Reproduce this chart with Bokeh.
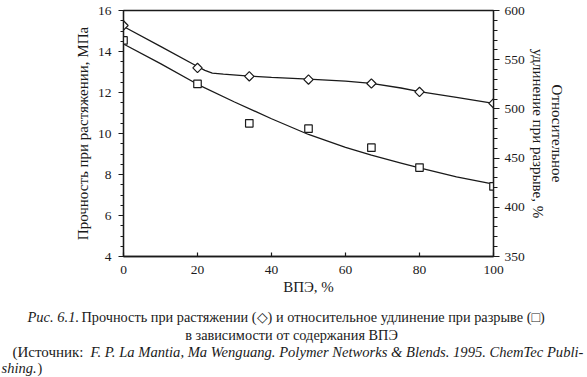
import math
from bokeh.plotting import figure
from bokeh.models import Range1d, LinearAxis, Label, FixedTicker
from bokeh.layouts import column
from bokeh.embed import file_html
from bokeh.resources import INLINE

# ---- data ----
vpe = [0, 20, 34, 50, 67, 80, 100]
strength = [15.27, 13.2, 12.79, 12.63, 12.44, 12.03, 11.47]          # МПа (left axis)
elongation = [569.6, 525.4, 485.3, 479.9, 460.6, 440.4, 421.2]       # % (right axis)

strength_fit_x = [0, 10, 20, 22, 24, 27, 34, 40, 50, 60, 67, 75, 80, 90, 100]
strength_fit_y = [15.22, 14.25, 13.27, 13.08, 12.95, 12.9, 12.8, 12.74, 12.65, 12.55, 12.45, 12.22, 12.04, 11.76, 11.47]

elong_fit_x = [0, 10, 20, 30, 40, 50, 60, 67, 75, 80, 90, 100]
elong_fit_y = [566, 546, 525, 507, 490, 474, 461, 453, 445, 440, 431, 423.5]

x_ticks = [0, 20, 40, 60, 80, 100]
left_ticks = [4, 6, 8, 10, 12, 14, 16]
right_ticks = [350, 400, 450, 500, 550, 600]

FONT = "Liberation Serif"
INK = "#1a1a1a"

W = 586
H1, H2 = 305, 71
FR_L, FR_R, FR_T, FR_B = 123, 493, 10, 256  # frame edges in canvas pixels

p = figure(width=W, height=H1, x_range=Range1d(0, 100), y_range=Range1d(4, 16),
           output_backend="svg", toolbar_location=None,
           min_border_left=FR_L, min_border_right=W - FR_R, min_border_top=FR_T,
           min_border_bottom=H1 - FR_B)
p.frame_align = False
p.extra_y_ranges = {"el": Range1d(350, 600)}
p.grid.visible = False
p.outline_line_color = INK
p.outline_line_width = 1.3
p.background_fill_color = "white"
p.border_fill_color = "white"

def style_axis(ax):
    ax.axis_line_color = INK
    ax.axis_line_width = 1.3
    ax.major_tick_line_color = INK
    ax.minor_tick_line_color = INK
    ax.major_tick_line_width = 1.2
    ax.minor_tick_line_width = 1.0
    ax.major_label_text_font = FONT
    ax.major_label_text_font_size = "13.5px"
    ax.major_label_text_color = INK
    ax.axis_label_text_font = FONT
    ax.axis_label_text_font_size = "15px"
    ax.axis_label_text_font_style = "normal"
    ax.axis_label_text_color = INK

# bottom axis
xa = p.xaxis[0]
style_axis(xa)
xa.ticker = FixedTicker(ticks=x_ticks)
xa.major_tick_in = 4
xa.major_tick_out = 0
xa.minor_tick_in = 0
xa.minor_tick_out = 0
xa.major_label_standoff = 9
xa.axis_label = "ВПЭ, %"
xa.axis_label_standoff = 2

# left axis
ya = p.yaxis[0]
style_axis(ya)
ya.ticker = FixedTicker(ticks=left_ticks, minor_ticks=[4 + 0.5 * i for i in range(25)])
ya.major_tick_in = 0
ya.major_tick_out = 5
ya.minor_tick_in = 0
ya.minor_tick_out = 3
ya.major_label_standoff = 7
ya.axis_label = "Прочность при растяжении, МПа"
ya.axis_label_standoff = 4

# right axis
ra = LinearAxis(y_range_name="el")
style_axis(ra)
ra.ticker = FixedTicker(ticks=right_ticks, minor_ticks=[350 + 10 * i for i in range(26)])
ra.major_tick_in = 0
ra.major_tick_out = 6
ra.minor_tick_in = 0
ra.minor_tick_out = 4
ra.major_label_standoff = 5
ra.axis_label = "Относительное\nудлинение при разрыве, %"
ra.axis_label_standoff = 2
p.add_layout(ra, "right")

# curves
p.line(strength_fit_x, strength_fit_y, line_color=INK, line_width=1.3)
p.line(elong_fit_x, elong_fit_y, line_color=INK, line_width=1.3, y_range_name="el")

# markers
p.scatter(vpe, strength, marker="square", angle=math.pi / 4, size=6.6,
          fill_color="white", line_color=INK, line_width=1.2)
p.scatter(vpe, elongation, marker="square", size=7.5, y_range_name="el",
          fill_color="white", line_color=INK, line_width=1.2)

# ---- caption figure (pixel-like coordinates, y downward) ----
c = figure(width=W, height=H2, x_range=Range1d(0, W), y_range=Range1d(H1 + H2, H1),
           output_backend="svg", toolbar_location=None, min_border=0)
c.frame_align = False
c.axis.visible = False
c.grid.visible = False
c.outline_line_color = None
c.background_fill_color = "white"
c.border_fill_color = "white"

def cap(text, px, py, style="normal", size="14.3px", align="left"):
    c.add_layout(Label(x=px, y=py, text=text, text_font=FONT, text_font_size=size,
                       text_font_style=style, text_color=INK, text_baseline="middle",
                       text_align=align))

cap("Рис. 6.1.", 27, 316, "italic", "14.5px")
cap("Прочность при растяжении (◇) и относительное удлинение при разрыве (□)", 81, 316)
cap("в зависимости от содержания ВПЭ", 291, 334, align="center")
cap("(Источник:", 12, 351, size="15px")
cap("F. P. La Mantia, Ma Wenguang. Polymer Networks & Blends. 1995. ChemTec Publi-", 90, 351,
    "italic", "14.6px")
cap("shing.", 1, 367, "italic", "14.5px")
cap(")", 37, 367)

layout = column(p, c, spacing=0)
open("out.html", "w").write(file_html(layout, INLINE))
